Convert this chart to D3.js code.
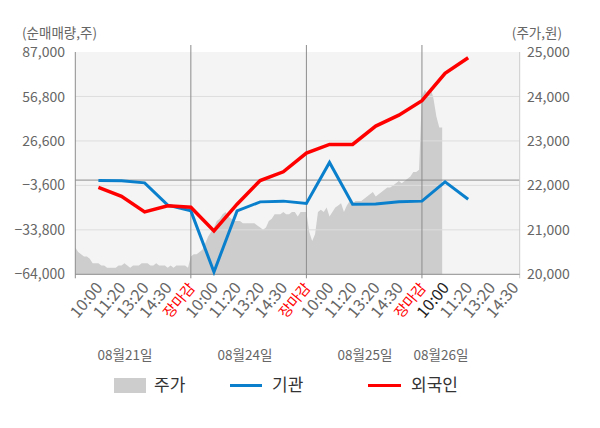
<!DOCTYPE html>
<html><head><meta charset="utf-8">
<script src="https://cdn.jsdelivr.net/npm/d3@7"></script>
<style>
html,body{margin:0;padding:0;background:#fff;}
svg{display:block;font-family:"Noto Sans CJK KR","Noto Sans",sans-serif;}
</style></head>
<body><svg id="c" width="600" height="428"></svg>
<script>
// ---- data ----
const categories = ["10:00","11:20","13:20","14:30","장마감","10:00","11:20","13:20","14:30","장마감","10:00","11:20","13:20","14:30","장마감","10:00","11:20","13:20","14:30"];
const dates = ["08월21일","08월24일","08월25일","08월26일"];
const institution = [-300,-500,-1900,-17000,-20900,-62400,-20900,-14800,-14300,-15900,12000,-16400,-16300,-14800,-14300,-1200,-13000];
const foreign = [-5000,-11000,-21600,-17500,-18400,-34500,-16400,-300,5600,18300,24200,24200,36700,44100,53900,72500,83100];
const priceDay1 = [20600,20500,20450,20400,20400,20350,20250,20250,20250,20200,20200,20150,20150,20150,20150,20200,20200,20250,20200,20150,20200,20200,20200,20250,20250,20250,20200,20200,20250,20200,20200,20200,20150,20200,20150,20200,20200,20200,20200,20150];
const priceDay2 = [20400,20450,20450,20500,20550,20700,20850,20950,21050,21200,21250,21350,21400,21300,21250,21200,21200,21200,21150,21150,21150,21150,21150,21100,21050,21000,21050,21200,21250,21350,21350,21350,21400,21350,21350,21400,21400,21300,21400,21400];
const priceDay3 = [21400,20950,20750,20900,21400,21450,21400,21500,21300,21400,21500,21550,21600,21400,21550,21650,21600,21650,21650,21650,21700,21750,21800,21850,21750,21800,21850,21900,21950,21950,22000,22050,22100,22050,22100,22150,22200,22300,22300,22350];
const priceDay4 = [24000,24150,24050,24200,23950,23550,23300,23300];
const leftTicks = [87000,56800,26600,-3600,-33800,-64000];
const rightTicks = [25000,24000,23000,22000,21000,20000];
const legendItems = ["주가","기관","외국인"];

// ---- layout ----
const L = 75.3, R = 519.7, T = 52, B = 274.3;
const SAMPLES_PER_DAY = 40, SLOTS_PER_DAY = 5;
const svg = d3.select("#c");
const x = d3.scaleLinear().domain([0, 19.23]).range([L, R]);
const yL = d3.scaleLinear().domain([-64000, 87000]).range([B, T]);
const yR = d3.scaleLinear().domain([20000, 25000]).range([B, T]);
const fmt = d3.format(",");

// background
svg.append("rect").attr("x", L).attr("y", T).attr("width", R - L).attr("height", B - T).attr("fill", "#f4f4f4");

// price area
const priceDays = [priceDay1, priceDay2, priceDay3, priceDay4];
const pricePts = [];
priceDays.forEach((arr, d) => arr.forEach((v, k) => pricePts.push({s: d * SLOTS_PER_DAY + k * SLOTS_PER_DAY / SAMPLES_PER_DAY, v})));
svg.append("path").datum(pricePts)
  .attr("fill", "#cdcdcd")
  .attr("d", d3.area().x(d => x(d.s)).y0(yR(20000)).y1(d => yR(d.v)));

// gridlines
svg.append("g").selectAll("line").data(leftTicks.slice(1, -1)).join("line")
  .attr("x1", L).attr("x2", R).attr("y1", d => yL(d)).attr("y2", d => yL(d))
  .attr("stroke", "#dddddd").attr("stroke-width", 1);
// zero line
svg.append("line").attr("x1", L).attr("x2", R).attr("y1", yL(0)).attr("y2", yL(0))
  .attr("stroke", "#8c8c8c").attr("stroke-width", 1);

// day separators
const seps = [5, 10, 15];
svg.append("g").selectAll("line").data(seps).join("line")
  .attr("x1", d => x(d)).attr("x2", d => x(d)).attr("y1", 45).attr("y2", B + 4)
  .attr("stroke", "#8c8c8c").attr("stroke-width", 1);
// left axis line
svg.append("line").attr("x1", L).attr("x2", L).attr("y1", T).attr("y2", B + 4).attr("stroke", "#8c8c8c");
// right border
svg.append("line").attr("x1", R).attr("x2", R).attr("y1", T).attr("y2", B + 4).attr("stroke", "#cccccc");
// bottom axis
svg.append("line").attr("x1", L).attr("x2", R).attr("y1", B).attr("y2", B).attr("stroke", "#8c8c8c");

// lines
const line = d3.line().x((d, i) => x(i + 1)).y(d => yL(d));
svg.append("path").datum(institution).attr("fill", "none").attr("stroke", "#0a80cc").attr("stroke-width", 3).attr("stroke-linejoin", "miter").attr("d", line);
svg.append("path").datum(foreign).attr("fill", "none").attr("stroke", "#ff0000").attr("stroke-width", 3.5).attr("stroke-linejoin", "miter").attr("d", line);

// left axis labels
svg.append("g").selectAll("text").data(leftTicks).join("text")
  .attr("x", 65).attr("y", d => yL(d)).attr("dy", "0.36em").attr("text-anchor", "end")
  .attr("font-size", 14).attr("fill", "#666").text(d => fmt(d));
// right axis labels
svg.append("g").selectAll("text").data(rightTicks).join("text")
  .attr("x", 527).attr("y", d => yR(d)).attr("dy", "0.36em").attr("text-anchor", "start")
  .attr("font-size", 14).attr("fill", "#666").text(d => fmt(d));
// axis titles
svg.append("text").attr("x", 22).attr("y", 38).attr("font-size", 13.5).attr("fill", "#666").text("(순매매량,주)");
svg.append("text").attr("x", 562).attr("y", 38).attr("text-anchor", "end").attr("font-size", 13.5).attr("fill", "#666").text("(주가,원)");

// x labels
const highlight = 15;
svg.append("g").selectAll("text").data(categories).join("text")
  .attr("transform", (d, i) => `translate(${x(i + 1) + 5},${B + 14}) rotate(-50)`)
  .attr("text-anchor", "end")
  .attr("font-size", d => d === "장마감" ? 14.5 : 16)
  .attr("fill", (d, i) => d === "장마감" ? "#ff0000" : (i === highlight ? "#222" : "#666"))
  .text(d => d);

// date labels
const dateX = [125, 245, 365, 441];
svg.append("g").selectAll("text").data(dates).join("text")
  .attr("x", (d, i) => dateX[i]).attr("y", 360).attr("text-anchor", "middle")
  .attr("font-size", 13.5).attr("fill", "#666").text(d => d);

// legend
const lg = svg.append("g");
lg.append("rect").attr("x", 114).attr("y", 378).attr("width", 32).attr("height", 15).attr("fill", "#cdcdcd");
lg.append("text").attr("x", 154).attr("y", 391).attr("font-size", 17).attr("fill", "#333").text(legendItems[0]);
lg.append("line").attr("x1", 230).attr("x2", 262).attr("y1", 385.5).attr("y2", 385.5).attr("stroke", "#0a80cc").attr("stroke-width", 3);
lg.append("text").attr("x", 272).attr("y", 391).attr("font-size", 17).attr("fill", "#333").text(legendItems[1]);
lg.append("line").attr("x1", 368).attr("x2", 401).attr("y1", 385.5).attr("y2", 385.5).attr("stroke", "#ff0000").attr("stroke-width", 3);
lg.append("text").attr("x", 411).attr("y", 391).attr("font-size", 17).attr("fill", "#333").text(legendItems[2]);
</script></body></html>
